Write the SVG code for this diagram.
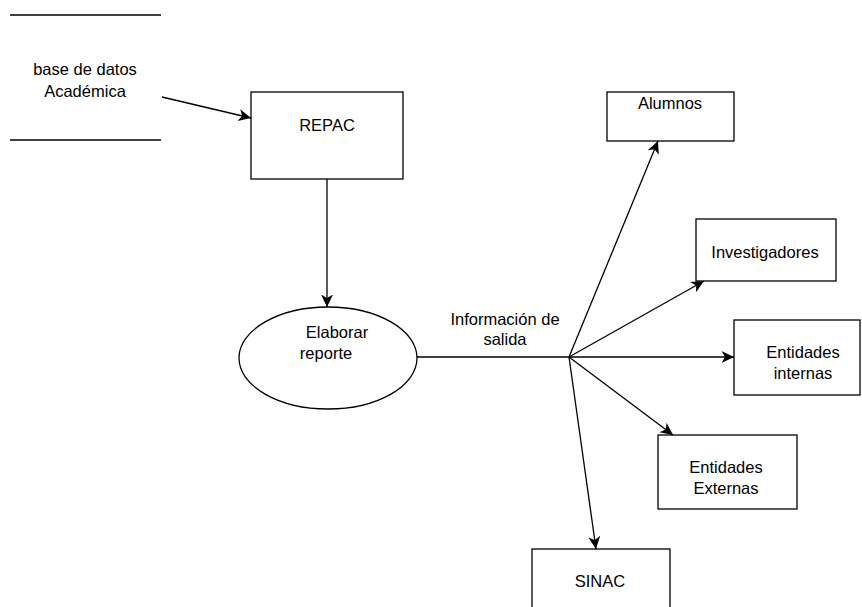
<svg xmlns="http://www.w3.org/2000/svg" width="862" height="607" viewBox="0 0 862 607">
  <style>
    .box { fill: #ffffff; stroke: #000000; stroke-width: 1.3; }
    .edge { fill: none; stroke: #000000; stroke-width: 1.3; }
    .lbl { font-family: "Liberation Sans", Arial, Helvetica, sans-serif; font-size: 16.5px; fill: #000000; text-anchor: middle; }
  </style>
  <defs>
    <marker id="arrow" markerUnits="userSpaceOnUse" markerWidth="14" markerHeight="14" viewBox="0 0 14 14" refX="12.5" refY="6" orient="auto">
      <path d="M0,0 L12.5,6 L0,12 L3.5,6 z" fill="#000000"/>
    </marker>
  </defs>

  <rect width="862" height="607" fill="#ffffff"/>

  <!-- data store -->
  <g id="store-base-datos">
    <line class="edge" x1="10" y1="15" x2="161" y2="15"/>
    <line class="edge" x1="10" y1="140" x2="161" y2="140"/>
    <text class="lbl" x="85" y="75">base de datos</text>
    <text class="lbl" x="85" y="97">Académica</text>
  </g>

  <g id="node-repac">
    <rect class="box" x="251" y="92" width="152" height="87"/>
    <text class="lbl" x="327" y="131">REPAC</text>
  </g>

  <g id="node-elaborar">
    <ellipse class="box" cx="328" cy="358" rx="89" ry="51"/>
    <text class="lbl" x="337" y="338">Elaborar</text>
    <text class="lbl" x="326" y="359">reporte</text>
  </g>

  <g id="label-info">
    <text class="lbl" x="505" y="325">Información de</text>
    <text class="lbl" x="505" y="345">salida</text>
  </g>

  <g id="node-alumnos">
    <rect class="box" x="607" y="92" width="127" height="49"/>
    <text class="lbl" x="670" y="109">Alumnos</text>
  </g>

  <g id="node-investigadores">
    <rect class="box" x="696" y="219" width="140" height="62"/>
    <text class="lbl" x="765" y="258">Investigadores</text>
  </g>

  <g id="node-internas">
    <rect class="box" x="734" y="320" width="126" height="75"/>
    <text class="lbl" x="803" y="358">Entidades</text>
    <text class="lbl" x="803" y="379">internas</text>
  </g>

  <g id="node-externas">
    <rect class="box" x="658" y="435" width="139" height="74"/>
    <text class="lbl" x="726" y="473">Entidades</text>
    <text class="lbl" x="726" y="494">Externas</text>
  </g>

  <g id="node-sinac">
    <rect class="box" x="532" y="549" width="138" height="70"/>
    <text class="lbl" x="600" y="587">SINAC</text>
  </g>

  <g id="connectors">
    <line class="edge" x1="162" y1="97" x2="251" y2="118" marker-end="url(#arrow)"/>
    <line class="edge" x1="327" y1="179" x2="327" y2="307" marker-end="url(#arrow)"/>
    <line class="edge" x1="417" y1="357" x2="569" y2="357"/>
    <line class="edge" x1="569" y1="357" x2="658" y2="141" marker-end="url(#arrow)"/>
    <line class="edge" x1="569" y1="357" x2="704" y2="281" marker-end="url(#arrow)"/>
    <line class="edge" x1="569" y1="357" x2="734" y2="357" marker-end="url(#arrow)"/>
    <line class="edge" x1="569" y1="357" x2="673" y2="435" marker-end="url(#arrow)"/>
    <line class="edge" x1="569" y1="357" x2="596" y2="549" marker-end="url(#arrow)"/>
  </g>
</svg>
